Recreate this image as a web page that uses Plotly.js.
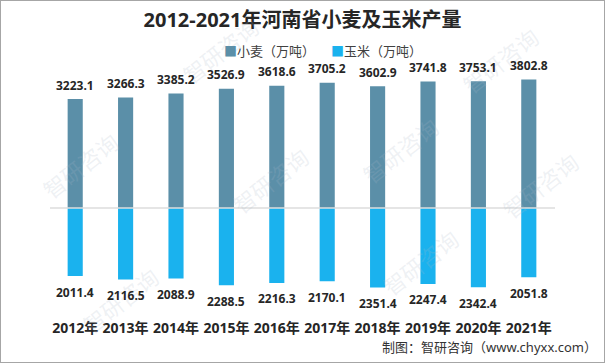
<!DOCTYPE html>
<html>
<head>
<meta charset="utf-8">
<script src="https://cdn.plot.ly/plotly-3.0.1.min.js"></script>
<style>
  html, body { margin: 0; padding: 0; background: #fff; }
  #frame { width: 605px; height: 363px; box-sizing: border-box; border: 1px solid #a6a6a6; overflow: hidden; }
  #chart { width: 603px; height: 361px; }
</style>
</head>
<body>
<div id="frame"><div id="chart"></div></div>
<script>
// ---- data ----
const years = ['2012年','2013年','2014年','2015年','2016年','2017年','2018年','2019年','2020年','2021年'];
const wheat = [3223.1, 3266.3, 3385.2, 3526.9, 3618.6, 3705.2, 3602.9, 3741.8, 3753.1, 3802.8];
const corn  = [2011.4, 2116.5, 2088.9, 2288.5, 2216.3, 2170.1, 2351.4, 2247.4, 2342.4, 2051.8];
const wheatName = '小麦（万吨）';
const cornName = '玉米（万吨）';
const titleText = '2012-2021年河南省小麦及玉米产量';
const sourceText = '制图：智研咨询（www.chyxx.com）';

const wheatColor = '#5b8fa8';
const cornColor = '#1ab2ee';
const fontFam = 'Noto Sans, Noto Sans CJK SC, sans-serif';

// plot-area helpers (page px -> paper coords)
const W = 603, H = 361;
const M = {l: 49, r: 50, t: 39, b: 44};
const PW = W - M.l - M.r, PH = H - M.t - M.b;
const px = X => (X - 1 - M.l) / PW;
const py = Y => (H - M.b - (Y - 1)) / PH;

const traces = [
  {type: 'bar', name: wheatName, x: years, y: wheat, marker: {color: wheatColor}, hoverinfo: 'skip'},
  {type: 'bar', name: cornName, x: years, y: corn.map(v => -v), marker: {color: cornColor}, hoverinfo: 'skip'}
];

const labelFont = {family: fontFam, size: 12, color: '#262626', weight: 'bold'};
const annotations = [];

// faint watermarks (drawn first, underneath other texts)
const wm = [[80, 165], [270, 180], [400, 150], [540, 185], [120, 300], [420, 262], [500, 60], [220, 50]];
wm.forEach(p => {
  annotations.push({xref: 'paper', yref: 'paper', x: px(p[0]), y: py(p[1]), xanchor: 'center', yanchor: 'middle',
    text: '智研咨询', textangle: -38, showarrow: false,
    font: {family: 'Noto Sans CJK SC', size: 22, color: 'rgba(170,185,200,0.2)'}});
});

years.forEach((yr, i) => {
  annotations.push({x: yr, y: wheat[i], xref: 'x', yref: 'y', text: wheat[i].toFixed(1),
    showarrow: false, yshift: 14, font: labelFont});
  annotations.push({x: yr, y: -corn[i], xref: 'x', yref: 'y', text: corn[i].toFixed(1),
    showarrow: false, yshift: -16, font: labelFont});
});

// legend drawn as text
annotations.push({xref: 'paper', yref: 'paper', x: px(222), y: py(51), xanchor: 'left', yanchor: 'middle',
  text: '<span style="color:' + wheatColor + '">■</span>' + wheatName, showarrow: false,
  font: {family: fontFam, size: 13, color: '#404040'}});
annotations.push({xref: 'paper', yref: 'paper', x: px(329), y: py(51), xanchor: 'left', yanchor: 'middle',
  text: '<span style="color:' + cornColor + '">■</span>' + cornName, showarrow: false,
  font: {family: fontFam, size: 13, color: '#404040'}});

// source
annotations.push({xref: 'paper', yref: 'paper', x: px(599), y: py(347), xanchor: 'right', yanchor: 'middle',
  text: sourceText, showarrow: false, font: {family: fontFam, size: 13, color: '#333333'}});

const layout = {
  width: W, height: H,
  margin: M,
  paper_bgcolor: '#ffffff', plot_bgcolor: '#ffffff',
  showlegend: false,
  barmode: 'relative',
  bargap: 0.7,
  title: {text: titleText, x: 0.5, xref: 'container', xanchor: 'center', y: 1 - 19 / H, yref: 'container', yanchor: 'middle',
    font: {family: fontFam, size: 20, color: '#262626', weight: 'bold'}},
  xaxis: {type: 'category', range: [-0.5, 9.5], showgrid: false, zeroline: false, showline: false, ticks: '',
    tickfont: {family: fontFam, size: 14, color: '#262626', weight: 'bold'}, fixedrange: true},
  yaxis: {range: [-3254, 4970], showgrid: false, zeroline: false, showline: false, showticklabels: false, ticks: '', fixedrange: true},
  shapes: [{type: 'line', xref: 'paper', yref: 'y', x0: 0, x1: 1.002, y0: 0, y1: 0, layer: 'above',
    line: {color: '#dcdcdc', width: 1.5}}],
  annotations: annotations
};

Plotly.newPlot('chart', traces, layout, {staticPlot: true, displayModeBar: false});
</script>
</body>
</html>
